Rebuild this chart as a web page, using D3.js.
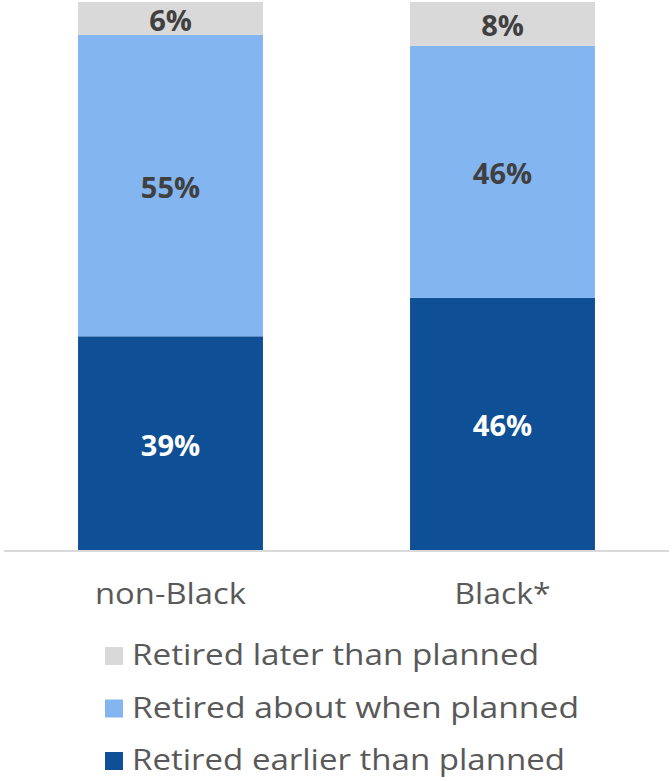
<!DOCTYPE html>
<html>
<head>
<meta charset="utf-8">
<script src="https://cdn.jsdelivr.net/npm/d3@7"></script>
<style>
  html, body { margin: 0; padding: 0; background: #fff; }
  svg { display: block; }
</style>
</head>
<body>
<svg id="chart" width="672" height="781"></svg>
<script>
// Retirement timing by group (percent of retirees)
const categories = ["non-Black", "Black*"];
const seriesNames = ["Retired earlier than planned", "Retired about when planned", "Retired later than planned"];
const earlier = [39, 46];
const aboutWhen = [55, 46];
const later = [6, 8];

const colors = ["#0F4F95", "#83B6F1", "#D9D9D9"];
const labelColors = ["#FFFFFF", "#404040", "#404040"];

const svg = d3.select("#chart");
const font = "'Open Sans', 'DejaVu Sans', sans-serif";

const x = d3.scaleBand()
  .domain(categories)
  .range([4.5, 668.5])
  .paddingInner(0.443)
  .paddingOuter(0.2215);

const y = d3.scaleLinear().domain([0, 100]).range([550, 2]);

const rows = categories.map((c, i) => ({
  category: c,
  s0: earlier[i],
  s1: aboutWhen[i],
  s2: later[i]
}));

const stack = d3.stack().keys(["s0", "s1", "s2"]);
const layers = stack(rows);

const g = svg.append("g");

layers.forEach((layer, li) => {
  g.selectAll(null)
    .data(layer)
    .join("rect")
    .attr("x", d => x(d.data.category))
    .attr("width", x.bandwidth())
    .attr("y", d => y(d[1]))
    .attr("height", d => y(d[0]) - y(d[1]))
    .attr("fill", colors[li]);

  g.selectAll(null)
    .data(layer)
    .join("text")
    .attr("x", d => x(d.data.category) + x.bandwidth() / 2)
    .attr("y", d => y((d[0] + d[1]) / 2) + 2)
    .attr("dy", "0.36em")
    .attr("text-anchor", "middle")
    .attr("font-family", font)
    .attr("font-weight", 700)
    .attr("font-size", 29)
    .attr("fill", labelColors[li])
    .text(d => (d[1] - d[0]) + "%");
});

// baseline
svg.append("line")
  .attr("x1", 4).attr("x2", 669)
  .attr("y1", 551).attr("y2", 551)
  .attr("stroke", "#D9D9D9")
  .attr("stroke-width", 2);

// category labels
const catWidths = [151, 96];
svg.selectAll(".cat")
  .data(categories)
  .join("text")
  .attr("class", "cat")
  .attr("x", d => x(d) + x.bandwidth() / 2)
  .attr("y", 604)
  .attr("text-anchor", "middle")
  .attr("font-family", font)
  .attr("font-size", 29)
  .attr("fill", "#595959")
  .attr("textLength", (d, i) => catWidths[i])
  .attr("lengthAdjust", "spacingAndGlyphs")
  .text(d => d);

// legend, listed top to bottom: later, about when, earlier
const legendOrder = [2, 1, 0];
const legendWidths = [407, 447, 433];
const legend = svg.append("g");
legendOrder.forEach((si, row) => {
  const baseY = 665 + row * 52.5;
  legend.append("rect")
    .attr("x", 105)
    .attr("y", baseY - 18)
    .attr("width", 18)
    .attr("height", 18)
    .attr("fill", colors[si]);
  legend.append("text")
    .attr("x", 132)
    .attr("y", baseY)
    .attr("font-family", font)
    .attr("font-size", 29)
    .attr("fill", "#595959")
    .attr("textLength", legendWidths[row])
    .attr("lengthAdjust", "spacingAndGlyphs")
    .text(seriesNames[si]);
});
</script>
</body>
</html>
